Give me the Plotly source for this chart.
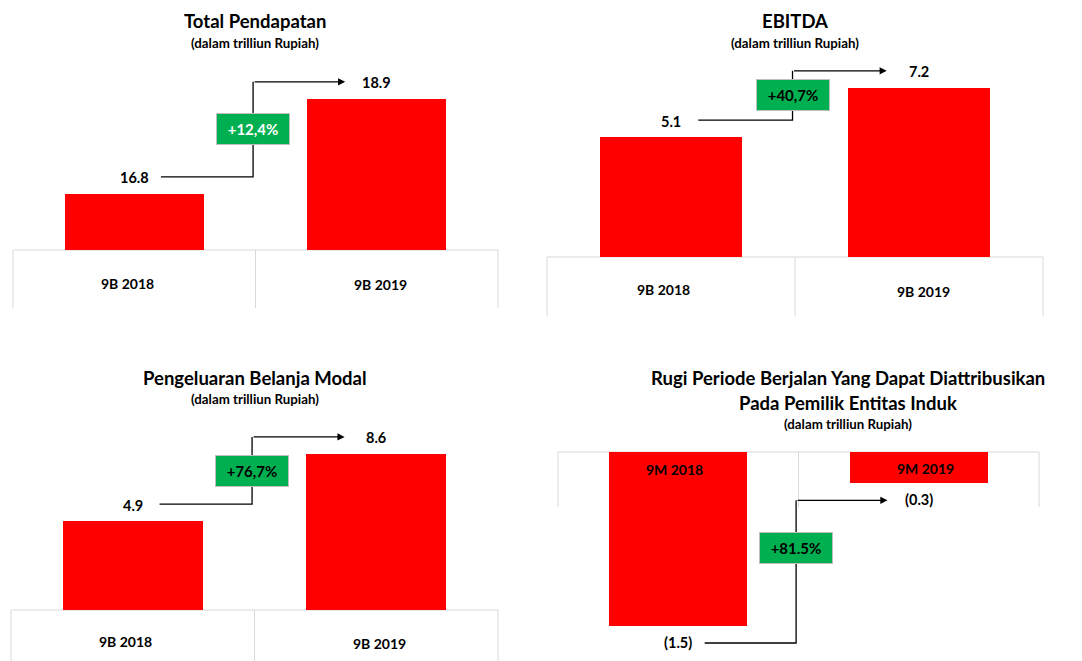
import plotly.graph_objects as go

W, H = 1082, 661

# ---------------- data ----------------
titles = [
    ["Total Pendapatan"],
    ["EBITDA"],
    ["Pengeluaran Belanja Modal"],
    ["Rugi Periode Berjalan Yang Dapat Diattribusikan", "Pada Pemilik Entitas Induk"],
]
subtitle = "(dalam trilliun Rupiah)"
categories_9b = ["9B 2018", "9B 2019"]
categories_9m = ["9M 2018", "9M 2019"]
total_pendapatan = [16.8, 18.9]
ebitda = [5.1, 7.2]
belanja_modal = [4.9, 8.6]
rugi_periode = [-1.5, -0.27]
growth_labels = ["+12,4%", "+40,7%", "+76,7%", "+81.5%"]

series = [total_pendapatan, ebitda, belanja_modal, rugi_periode]
cats = [categories_9b, categories_9b, categories_9b, categories_9m]

# ---------------- style / layout (pixel geometry) ----------------
panels = [
    dict(xd=(13, 498), yd=(50, 250), yr=(15.56, 19.98), cx=255, title_y=[21], sub_y=43,
         cat_y=(283, 284), cat_dx=(-7, 4), table=(250, 308), box_t=0.5, box_color="white"),
    dict(xd=(547, 1043), yd=(50, 257), yr=(0, 8.81), cx=795, title_y=[21], sub_y=43,
         cat_y=(289, 291), cat_dx=(-8, 4), table=(257, 316), box_t=0.5, box_color="black"),
    dict(xd=(11, 498), yd=(420, 610), yr=(0, 10.47), cx=255, title_y=[378], sub_y=399,
         cat_y=(641, 643), cat_dx=(-7, 3), table=(610, 661), box_t=0.5, box_color="black"),
    dict(xd=(558, 1039), yd=(452, 655), yr=(-1.75, 0), cx=848, title_y=[378, 403], sub_y=424,
         cat_y=(470, 468), cat_dx=(-4, 7), table=(452, 507), box_t=0.667, box_color="black"),
]

FONT = "Lato"
RED = "#FF0000"
GREEN = "#00B050"
GRID = "#D9D9D9"
BAR_W = 0.573
X_START, X_MID, X_END = 0.11, 0.49, 0.87
ARROW_OFF = 17   # px from bar end
LABEL_OFF = 16   # px from bar end


def px_x(p):
    return p / W


def px_y(p):
    return 1 - p / H


def fmt(v):
    return f"({abs(v):.1f})" if v < 0 else f"{v:.1f}"


fig = go.Figure()
annotations = []
shapes = []
layout_axes = {}

for i, (vals, cat, p, ttl, glab) in enumerate(zip(series, cats, panels, titles, growth_labels)):
    n = i + 1
    xa, ya = f"x{n}", f"y{n}"
    xkey, ykey = f"xaxis{n}", f"yaxis{n}"
    layout_axes[xkey] = dict(domain=[px_x(p["xd"][0]), px_x(p["xd"][1])], range=[-0.5, 1.5],
                             visible=False, fixedrange=True, anchor=ya)
    layout_axes[ykey] = dict(domain=[px_y(p["yd"][1]), px_y(p["yd"][0])], range=list(p["yr"]),
                             visible=False, fixedrange=True, anchor=xa)

    # bars
    fig.add_trace(go.Bar(x=[0, 1], y=vals, width=BAR_W, marker=dict(color=RED, line=dict(width=0)),
                         xaxis=xa, yaxis=ya, hoverinfo="skip", showlegend=False))

    ppu = (p["yd"][1] - p["yd"][0]) / (p["yr"][1] - p["yr"][0])
    sgn = [1 if v >= 0 else -1 for v in vals]
    ya1 = vals[0] + sgn[0] * ARROW_OFF / ppu
    ya2 = vals[1] + sgn[1] * ARROW_OFF / ppu

    # connector
    fig.add_trace(go.Scatter(x=[X_START, X_MID, X_MID], y=[ya1, ya1, ya2], mode="lines",
                             line=dict(color="black", width=1.3), xaxis=xa, yaxis=ya,
                             hoverinfo="skip", showlegend=False))
    annotations.append(dict(x=X_END, y=ya2, ax=X_MID, ay=ya2, xref=xa, yref=ya, axref=xa, ayref=ya,
                            text="", showarrow=True, arrowhead=2, arrowsize=1.1, arrowwidth=1.3,
                            arrowcolor="black", standoff=0))

    # growth box
    annotations.append(dict(x=X_MID, y=ya1 + p["box_t"] * (ya2 - ya1), xref=xa, yref=ya,
                            text=glab, showarrow=False, bgcolor=GREEN, bordercolor="#BFBFBF",
                            borderwidth=1, borderpad=0, width=72, height=30,
                            font=dict(family=FONT, size=15, color=p["box_color"], weight="bold")))

    # value labels
    for k, v in enumerate(vals):
        annotations.append(dict(x=k, y=v, xref=xa, yref=ya, text=fmt(v), showarrow=False,
                                yshift=sgn[k] * LABEL_OFF, yanchor="middle",
                                font=dict(family=FONT, size=14.5, color="black", weight="bold")))

    # category labels
    for k, c in enumerate(cat):
        annotations.append(dict(x=k, y=px_y(p["cat_y"][k]), xref=xa, yref="paper", text=c,
                                showarrow=False, yanchor="middle", xshift=p["cat_dx"][k],
                                font=dict(family=FONT, size=14, color="black", weight="bold")))

    # titles
    for line, ty in zip(ttl, p["title_y"]):
        annotations.append(dict(x=px_x(p["cx"]), y=px_y(ty), xref="paper", yref="paper", text=line,
                                showarrow=False, yanchor="middle", xanchor="center",
                                font=dict(family=FONT, size=18.5, color="black", weight="bold")))
    annotations.append(dict(x=px_x(p["cx"]), y=px_y(p["sub_y"]), xref="paper", yref="paper",
                            text=subtitle, showarrow=False, yanchor="middle", xanchor="center",
                            font=dict(family=FONT, size=13.3, color="black", weight="bold")))

    # table lines
    x0, x1 = p["xd"]
    xm = (x0 + x1) / 2
    t0, t1 = p["table"]
    line = dict(color=GRID, width=1)
    shapes.append(dict(type="line", xref="paper", yref="paper", x0=px_x(x0), x1=px_x(x1),
                       y0=px_y(t0), y1=px_y(t0), line=line, layer="below"))
    for xv in (x0, xm, x1):
        shapes.append(dict(type="line", xref="paper", yref="paper", x0=px_x(xv), x1=px_x(xv),
                           y0=px_y(t0), y1=px_y(t1), line=line, layer="below"))

fig.update_layout(width=W, height=H, margin=dict(l=0, r=0, t=0, b=0),
                  paper_bgcolor="white", plot_bgcolor="rgba(0,0,0,0)",
                  annotations=annotations, shapes=shapes, showlegend=False, bargap=0,
                  **layout_axes)

fig.write_html("out.html", config={"displayModeBar": False})
